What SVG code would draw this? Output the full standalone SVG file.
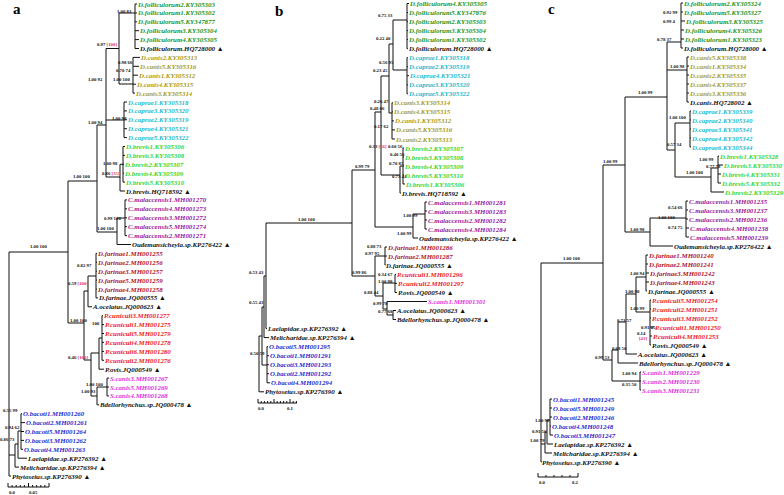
<svg xmlns="http://www.w3.org/2000/svg" width="784" height="495" viewBox="0 0 784 495">
<style>
.t{font-family:"Liberation Serif","DejaVu Serif",serif;font-style:italic;font-weight:bold;font-size:6.9px}
.s{font-family:"Liberation Serif","DejaVu Serif",serif;font-weight:bold;font-size:4.8px;fill:#111}
.L{font-family:"Liberation Serif","DejaVu Serif",serif;font-weight:bold;font-size:15px;fill:#000}
.r{fill:#e0306a}
.fol{fill:#22962a}.can{fill:#a89b1c}.cap{fill:#1fb8cc}.bre{fill:#33d633}.mal{fill:#98209a}
.far{fill:#b0142c}.cun{fill:#ee1c2a}.sca{fill:#e52ee0}.bac{fill:#2b2bcc}.blk{fill:#111}
.ln{stroke:#111;stroke-width:1;fill:none}
</style>
<rect width="784" height="495" fill="#fff"/>
<g id="panel-letters">
<text class="L" x="13" y="14">a</text>
<text class="L" x="275" y="16">b</text>
<text class="L" x="548" y="14">c</text>
</g>

<g id="connectors">
<path class="ln" d="M135,4V48.5 M135,4H137 M135,12.9H137 M135,21.8H137 M135,30.7H139 M135,39.6H139 M135,48.5H139 M119,13H135
M133,57.4V93.1 M133,57.4H140 M133,66.3H139 M133,75.2H138 M133,84.2H136 M133,93.1H135 M119,84H133
M119,13V84 M106,48.5H119
M124,102V137.6 M124,102H127 M124,110.9H127 M124,119.8H127 M124,128.7H127 M124,137.6H127 M106,120H124
M123,146.5V182.1 M123,146.5H125 M123,155.4H125 M123,164.3H124 M123,173.2H124 M123,182.1H125 M120,164.3V191 M120,164.3H123 M120,191H125 M106,177H120
M106,48.5V177 M97,125H106
M125,199.9V235.6 M125,199.9H127 M125,208.8H127 M125,217.8H127 M125,226.7H127 M125,235.6H127 M117,218V244.5 M117,218H125 M117,244.5H131 M97,232H117
M97,125V232 M68,181H97
M96,253.4V297.9 M96,253.4H97 M96,262.3H97 M96,271.2H97 M96,280.1H97 M96,289H97 M96,297.9H98 M88,276H96
M88,276V306.8 M88,306.8H92
M102,315.7V360.3 M102,315.7H103 M102,324.6H104 M102,333.5H104 M102,342.4H104 M102,351.4H104 M102,360.3H104 M99,338H102
M99,338V369.2 M99,369.2H104
M107,378.1V395.9 M107,378.1H109 M107,387H109 M107,395.9H109 M97,387H107
M97,387V404.8 M97,404.8H99
M91,353V396 M91,353H99 M91,396H97
M84,291V360 M84,291H88 M84,360H91 M68,323H84
M68,181V323 M9,252H68
M21,413.7V449.3 M21,413.7H22 M21,422.6H25 M21,431.5H24 M21,440.4H24 M21,449.3H23
M18,431V458.2 M18,431H21 M18,458.2H27
M15,444V467.1 M15,444H18 M15,467.1H19
M9,252V476 M9,455H15 M9,476H11"/>
<path class="ln" d="M8,487H49 M8,483V487 M12.1,485V487 M16.2,485V487 M20.3,485V487 M24.4,485V487 M28.5,483V487 M32.6,485V487 M36.7,485V487 M40.8,485V487 M44.9,485V487 M49,483V487"/>

<path class="ln" d="M407,3.5V48.7 M407,3.5H409 M407,12.5H408 M407,21.6H408 M407,30.6H408 M407,39.6H408 M407,48.7H408 M393,20H407
M407,57.7V93.8 M407,57.7H408 M407,66.7H408 M407,75.7H409 M407,84.8H408 M407,93.8H408 M393,70H407
M393,20V70 M389,44H393
M392,102.8V139 M392,102.8H393 M392,111.9H393 M392,120.9H394 M392,129.9H395 M392,139H395 M389,113H392
M389,44V113 M381,76H389
M403,148V184 M403,148H404 M403,157H404 M403,166H404 M403,175H404 M403,184H405 M400,166V193 M400,166H403 M400,193H401 M381,175H400
M381,76V175 M375,112H381
M425,202V229 M425,202H427 M425,211H427 M425,220H427 M425,229H427 M413,214V238 M413,214H425 M413,238H418 M375,227H413
M375,112V227 M352,170H375
M385,247V265 M385,247H387 M385,256H387 M385,265H385.5 M375,256H385
M395,274.4V292.5 M395,274.4H396 M395,283.4H397 M395,292.5H397 M383,283H395
M393,310.5V319.5 M393,310.5H396 M393,319.5H396 M387,301.5V315 M387,301.5H427 M387,315H393
M383,283V309 M383,309H387
M375,256V296 M375,296H383
M352,170V276 M352,276H375
M266,223V328.6 M266,223H352 M266,328.6H267
M264,276V337.6 M264,276H266 M264,337.6H269
M267,346.6V382.8 M267,346.6H268 M267,355.7H269 M267,364.7H269 M267,373.7H269 M267,382.8H270
M262,307V365 M262,307H264 M262,365H267
M259,336V391.8 M259,336H262 M259,391.8H264"/>
<path class="ln" d="M258,403H297 M258,399V403 M261.2,401V403 M264.4,401V403 M267.6,401V403 M270.8,401V403 M274,399V403 M277.2,401V403 M280.4,401V403 M283.6,401V403 M286.8,401V403 M290,399V403 M293.2,401V403 M296.4,401V403"/>

<path class="ln" d="M681,3V48 M681,3H683 M681,12H683 M681,21H685 M681,30H684 M681,39H684 M681,48H683
M687,57V102 M687,57H689 M687,66H689 M687,75H689 M687,84H689 M687,93H689 M687,102H689
M690,111V147 M690,111H691 M690,120H691 M690,129H691 M690,138H691 M690,147H691
M718,156V183 M718,156H719 M718,165H723 M718,174H721 M718,183H721 M711,168V192 M711,168H718 M711,192H724
M675,123V177 M675,123H690 M675,177H711
M667,42V150 M667,42H681 M667,70H687 M667,150H675
M686,201V237 M686,201H688 M686,210H688 M686,219H688 M686,228H689 M686,237H689
M650,218V246 M650,218H686 M650,246H673
M625,97V232 M625,97H667 M625,232H650
M646,255V291 M646,255H648 M646,264H648 M646,273H649 M646,282H649 M646,291H647
M650,300V345 M650,300H651 M650,309H651 M650,318H651 M650,327H654 M650,336H652 M650,345H651
M636,277V312 M636,277H646 M636,312H650
M626,294V354 M626,294H636 M626,354H637
M618,322V363 M618,322H626 M618,363H638
M640,372V390 M640,372H641 M640,381H641 M640,390H641
M612,350V381 M612,350H618 M612,381H640
M603,165V360 M603,165H625 M603,360H612
M550,399V435 M550,399H552 M550,408H552 M550,417H552 M550,426H551 M550,435H553
M547,420V444 M547,420H550 M547,444H553
M545,432V453 M545,432H547 M545,453H552
M541,263V462 M541,263H603 M541,444H545 M541,462H541.8"/>
<path class="ln" d="M538,477H578 M538,473V477 M546,475V477 M554,475V477 M562,475V477 M570,475V477 M578,473V477"/>
</g>

<g id="scale-labels">
<text class="s" x="9" y="494">0.0</text><text class="s" x="29" y="494">0.05</text>
<text class="s" x="258" y="410">0.0</text><text class="s" x="287" y="410">0.1</text>
<text class="s" x="539" y="484">0.0</text><text class="s" x="572" y="484">0.2</text>
</g>

<g id="support-a">
<text class="s" x="97" y="45.7">0.97 <tspan class="r">[100]</tspan></text>
<text class="s" x="117" y="12.7">1.00 83</text>
<text class="s" x="118" y="63.7">0.98 66</text>
<text class="s" x="116" y="71.7">0.70 74</text>
<text class="s" x="113" y="80.7">1.00 100</text>
<text class="s" x="88" y="80.7">1.00 92</text>
<text class="s" x="112" y="119.7">1.00 99</text>
<text class="s" x="88" y="123.7">1.00 94</text>
<text class="s" x="103" y="164.7">1.00 98</text>
<text class="s" x="102" y="174.7">0.86 <tspan class="r">[35]</tspan></text>
<text class="s" x="73" y="177.7">1.00 100</text>
<text class="s" x="104" y="219.7">0.99 100</text>
<text class="s" x="97" y="229.7">1.00 100</text>
<text class="s" x="30" y="247.7">1.00 100</text>
<text class="s" x="77" y="266.7">0.82 97</text>
<text class="s" x="68" y="284.7">0.59 <tspan class="r">[100]</tspan></text>
<text class="s" x="70" y="321.7">1.00 100</text>
<text class="s" x="92" y="324.7">100</text>
<text class="s" x="68" y="358.7">0.46 <tspan class="r">[100]</tspan></text>
<text class="s" x="86" y="385.7">1.00 100</text>
<text class="s" x="81" y="392.7">1.00 93</text>
<text class="s" x="3" y="411.7">0.55 99</text>
<text class="s" x="5" y="428.7">0.94 62</text>
<text class="s" x="0" y="440.7">0.86 73</text>
</g>

<g id="support-b">
<text class="s" x="378" y="16.7">0.75 33</text>
<text class="s" x="376" y="39.7">0.22 40</text>
<text class="s" x="379" y="63.7">0.56 95</text>
<text class="s" x="373" y="71.7">0.23 45</text>
<text class="s" x="374" y="102.7">0.26 47</text>
<text class="s" x="370" y="109.7">0.48 86</text>
<text class="s" x="374" y="127.7">0.17 62</text>
<text class="s" x="369" y="147.7">0.33 <tspan class="r">[56]</tspan></text>
<text class="s" x="388" y="147.7">0.60 56</text>
<text class="s" x="390" y="155.7">0.40 56</text>
<text class="s" x="389" y="164.7">0.70 85</text>
<text class="s" x="392" y="177.7">0.73 44</text>
<text class="s" x="355" y="167.7">0.99 79</text>
<text class="s" x="298" y="220.7">1.00 100</text>
<text class="s" x="403" y="216.7">1.00 99</text>
<text class="s" x="397" y="234.7">1.00 99</text>
<text class="s" x="367" y="247.7">0.88 73</text>
<text class="s" x="365" y="254.7">0.97 95</text>
<text class="s" x="352" y="273.7">0.99 86</text>
<text class="s" x="378" y="275.7">0.34 67</text>
<text class="s" x="378" y="282.7">1.00 98</text>
<text class="s" x="364" y="293.7">0.88 44</text>
<text class="s" x="373" y="304.7">0.99 78</text>
<text class="s" x="378" y="312.7">0.77 68</text>
<text class="s" x="249" y="273.7">0.53 43</text>
<text class="s" x="249" y="303.7">0.55 43</text>
<text class="s" x="250" y="354.7">0.50 59</text>
</g>

<g id="support-c">
<text class="s" x="663" y="13.7">0.92 99</text>
<text class="s" x="663" y="22.7">0.99 4</text>
<text class="s" x="657" y="40.7">0.78 37</text>
<text class="s" x="670" y="67.7">1.00 98</text>
<text class="s" x="638" y="93.7">1.00 99</text>
<text class="s" x="669" y="118.7">1.00 100</text>
<text class="s" x="667" y="145.7">0.57 34</text>
<text class="s" x="603" y="162.7">1.00 99</text>
<text class="s" x="699" y="160.7">1.00 99</text>
<text class="s" x="706" y="167.7">0.77 78</text>
<text class="s" x="686" y="173.7">1.00 100</text>
<text class="s" x="668" y="208.7">0.54 66</text>
<text class="s" x="658" y="218.7">1.00 100</text>
<text class="s" x="668" y="228.7">0.74 75</text>
<text class="s" x="630" y="230.7">1.00 98</text>
<text class="s" x="563" y="259.7">1.00 100</text>
<text class="s" x="630" y="274.7">1.00 94</text>
<text class="s" x="625" y="292.7">1.00 98</text>
<text class="s" x="630" y="309.7">1.00 99</text>
<text class="s" x="617" y="321.7">0.73 57</text>
<text class="s" x="641" y="328.7">0.91 45</text>
<text class="s" x="637" y="334.7">0.14</text>
<text class="s r" x="639" y="339.7">[43]</text>
<text class="s" x="612" y="349.7">0.68 50</text>
<text class="s" x="595" y="358.7">0.99 53</text>
<text class="s" x="622" y="374.7">1.00 94</text>
<text class="s" x="622" y="385.7">0.35 50</text>
<text class="s" x="535" y="421.7">1.00 90</text>
<text class="s" x="532" y="432.7">0.91 56</text>
<text class="s" x="530" y="441.7">1.00 79</text>
</g>

<g id="tips-a">
<g id="a01"><text class="t fol" x="138" y="6.5">D.folliculorum2.KY305303</text></g>
<g id="a02"><text class="t fol" x="138" y="15.4">D.folliculorum1.KY305302</text></g>
<g id="a03"><text class="t fol" x="138" y="24.3">D.folliculorum5.KY347877</text></g>
<g id="a04"><text class="t fol" x="140" y="33.2">D.folliculorum3.KY305304</text></g>
<g id="a05"><text class="t fol" x="140" y="42.1">D.folliculorum4.KY305305</text></g>
<g id="a06"><text class="t blk" x="140" y="51">D.folliculorum.HQ728000 ▲</text></g>
<g id="a07"><text class="t can" x="141" y="59.9">D.canis2.KY305313</text></g>
<g id="a08"><text class="t can" x="140" y="68.8">D.canis5.KY305316</text></g>
<g id="a09"><text class="t can" x="139" y="77.7">D.canis1.KY305312</text></g>
<g id="a10"><text class="t can" x="137" y="86.7">D.canis4.KY305315</text></g>
<g id="a11"><text class="t can" x="136" y="95.6">D.canis3.KY305314</text></g>
<g id="a12"><text class="t cap" x="128" y="104.5">D.caprae1.KY305318</text></g>
<g id="a13"><text class="t cap" x="128" y="113.4">D.caprae3.KY305320</text></g>
<g id="a14"><text class="t cap" x="128" y="122.3">D.caprae2.KY305319</text></g>
<g id="a15"><text class="t cap" x="128" y="131.2">D.caprae4.KY305321</text></g>
<g id="a16"><text class="t cap" x="128" y="140.1">D.caprae5.KY305322</text></g>
<g id="a17"><text class="t bre" x="126" y="149">D.brevis1.KY305306</text></g>
<g id="a18"><text class="t bre" x="126" y="157.9">D.brevis3.KY305308</text></g>
<g id="a19"><text class="t bre" x="125" y="166.8">D.brevis2.KY305307</text></g>
<g id="a20"><text class="t bre" x="125" y="175.7">D.brevis4.KY305309</text></g>
<g id="a21"><text class="t bre" x="126" y="184.6">D.brevis5.KY305310</text></g>
<g id="a22"><text class="t blk" x="126" y="193.5">D.brevis.HQ718592 ▲</text></g>
<g id="a23"><text class="t mal" x="128" y="202.4">C.malaccensis1.MH001270</text></g>
<g id="a24"><text class="t mal" x="128" y="211.3">C.malaccensis4.MH001273</text></g>
<g id="a25"><text class="t mal" x="128" y="220.3">C.malaccensis3.MH001272</text></g>
<g id="a26"><text class="t mal" x="128" y="229.2">C.malaccensis5.MH001274</text></g>
<g id="a27"><text class="t mal" x="128" y="238.1">C.malaccensis2.MH001271</text></g>
<g id="a28"><text class="t blk" x="132" y="247">Oudemansicheyla.sp.KP276422 ▲</text></g>
<g id="a29"><text class="t far" x="98" y="255.9">D.farinae1.MH001255</text></g>
<g id="a30"><text class="t far" x="98" y="264.8">D.farinae2.MH001256</text></g>
<g id="a31"><text class="t far" x="98" y="273.7">D.farinae3.MH001257</text></g>
<g id="a32"><text class="t far" x="98" y="282.6">D.farinae5.MH001259</text></g>
<g id="a33"><text class="t far" x="98" y="291.5">D.farinae4.MH001258</text></g>
<g id="a34"><text class="t blk" x="99" y="300.4">D.farinae.JQ000555 ▲</text></g>
<g id="a35"><text class="t blk" x="93" y="309.3">A.ocelatus.JQ000623 ▲</text></g>
<g id="a36"><text class="t cun" x="104" y="318.2">P.cuniculi3.MH001277</text></g>
<g id="a37"><text class="t cun" x="105" y="327.1">P.cuniculi1.MH001275</text></g>
<g id="a38"><text class="t cun" x="105" y="336">P.cuniculi5.MH001279</text></g>
<g id="a39"><text class="t cun" x="105" y="344.9">P.cuniculi4.MH001278</text></g>
<g id="a40"><text class="t cun" x="105" y="353.9">P.cuniculi6.MH001280</text></g>
<g id="a41"><text class="t cun" x="105" y="362.8">P.cuniculi2.MH001276</text></g>
<g id="a42"><text class="t blk" x="105" y="371.7">P.ovis.JQ000549 ▲</text></g>
<g id="a43"><text class="t sca" x="110" y="380.6">S.canis3.MH001267</text></g>
<g id="a44"><text class="t sca" x="110" y="389.5">S.canis5.MH001269</text></g>
<g id="a45"><text class="t sca" x="110" y="398.4">S.canis4.MH001268</text></g>
<g id="a46"><text class="t blk" x="100" y="407.3">Bdellorhynchus.sp.JQ000478 ▲</text></g>
<g id="a47"><text class="t bac" x="23" y="416.2">O.bacoti1.MH001260</text></g>
<g id="a48"><text class="t bac" x="26" y="425.1">O.bacoti2.MH001261</text></g>
<g id="a49"><text class="t bac" x="25" y="434">O.bacoti5.MH001264</text></g>
<g id="a50"><text class="t bac" x="25" y="442.9">O.bacoti3.MH001262</text></g>
<g id="a51"><text class="t bac" x="24" y="451.8">O.bacoti4.MH001263</text></g>
<g id="a52"><text class="t blk" x="28" y="460.7">Laelapidae.sp.KP276392 ▲</text></g>
<g id="a53"><text class="t blk" x="20" y="469.6">Melicharidae.sp.KP276394 ▲</text></g>
<g id="a54"><text class="t blk" x="12" y="478.5">Phytoseius.sp.KP276390 ▲</text></g>
</g>

<g id="tips-b">
<g id="b01"><text class="t fol" x="410" y="6">D.folliculorum4.KY305305</text></g>
<g id="b02"><text class="t fol" x="409" y="15">D.folliculorum5.KY347876</text></g>
<g id="b03"><text class="t fol" x="409" y="24.1">D.folliculorum2.KY305303</text></g>
<g id="b04"><text class="t fol" x="409" y="33.1">D.folliculorum3.KY305304</text></g>
<g id="b05"><text class="t fol" x="409" y="42.1">D.folliculorum1.KY305302</text></g>
<g id="b06"><text class="t blk" x="409" y="51.2">D.folliculorum.HQ728000 ▲</text></g>
<g id="b07"><text class="t cap" x="409" y="60.2">D.caprae1.KY305318</text></g>
<g id="b08"><text class="t cap" x="409" y="69.2">D.caprae2.KY305319</text></g>
<g id="b09"><text class="t cap" x="410" y="78.2">D.caprae4.KY305321</text></g>
<g id="b10"><text class="t cap" x="409" y="87.3">D.caprae3.KY305320</text></g>
<g id="b11"><text class="t cap" x="409" y="96.3">D.caprae5.KY305322</text></g>
<g id="b12"><text class="t can" x="394" y="105.3">D.canis3.KY305314</text></g>
<g id="b13"><text class="t can" x="394" y="114.4">D.canis4.KY305315</text></g>
<g id="b14"><text class="t can" x="395" y="123.4">D.canis1.KY305312</text></g>
<g id="b15"><text class="t can" x="396" y="132.4">D.canis5.KY305316</text></g>
<g id="b16"><text class="t can" x="396" y="141.5">D.canis2.KY305313</text></g>
<g id="b17"><text class="t bre" x="405" y="150.5">D.brevis2.KY305307</text></g>
<g id="b18"><text class="t bre" x="405" y="159.5">D.brevis3.KY305308</text></g>
<g id="b19"><text class="t bre" x="405" y="168.5">D.brevis4.KY305309</text></g>
<g id="b20"><text class="t bre" x="405" y="177.5">D.brevis5.KY305310</text></g>
<g id="b21"><text class="t bre" x="406" y="186.5">D.brevis1.KY305306</text></g>
<g id="b22"><text class="t blk" x="402" y="195.5">D.brevis.HQ718592 ▲</text></g>
<g id="b23"><text class="t mal" x="428" y="204.5">C.malaccensis1.MH001281</text></g>
<g id="b24"><text class="t mal" x="428" y="213.5">C.malaccensis3.MH001283</text></g>
<g id="b25"><text class="t mal" x="428" y="222.5">C.malaccensis2.MH001282</text></g>
<g id="b26"><text class="t mal" x="428" y="231.5">C.malaccensis4.MH001284</text></g>
<g id="b27"><text class="t blk" x="419" y="240.5">Oudemansicheyla.sp.KP276422 ▲</text></g>
<g id="b28"><text class="t far" x="388" y="249.5">D.farinae1.MH001286</text></g>
<g id="b29"><text class="t far" x="388" y="258.5">D.farinae2.MH001287</text></g>
<g id="b30"><text class="t blk" x="386" y="267.5">D.farinae.JQ000555 ▲</text></g>
<g id="b31"><text class="t cun" x="397" y="276.9">P.cuniculi1.MH001296</text></g>
<g id="b32"><text class="t cun" x="398" y="285.9">P.cuniculi2.MH001297</text></g>
<g id="b33"><text class="t blk" x="398" y="295">P.ovis.JQ000549 ▲</text></g>
<g id="b34"><text class="t sca" x="428" y="304">S.canis1.MH001301</text></g>
<g id="b35"><text class="t blk" x="397" y="313">A.ocelatus.JQ000623 ▲</text></g>
<g id="b36"><text class="t blk" x="397" y="322">Bdellorhynchus.sp.JQ000478 ▲</text></g>
<g id="b37"><text class="t blk" x="268" y="331.1">Laelapidae.sp.KP276392 ▲</text></g>
<g id="b38"><text class="t blk" x="270" y="340.1">Melicharidae.sp.KP276394 ▲</text></g>
<g id="b39"><text class="t bac" x="269" y="349.1">O.bacoti5.MH001295</text></g>
<g id="b40"><text class="t bac" x="270" y="358.2">O.bacoti1.MH001291</text></g>
<g id="b41"><text class="t bac" x="270" y="367.2">O.bacoti3.MH001293</text></g>
<g id="b42"><text class="t bac" x="270" y="376.2">O.bacoti2.MH001292</text></g>
<g id="b43"><text class="t bac" x="271" y="385.3">O.bacoti4.MH001294</text></g>
<g id="b44"><text class="t blk" x="265" y="394.3">Phytoseius.sp.KP276390 ▲</text></g>
</g>

<g id="tips-c">
<g id="c01"><text class="t fol" x="684" y="5.5">D.folliculorum2.KY305324</text></g>
<g id="c02"><text class="t fol" x="684" y="14.5">D.folliculorum5.KY305327</text></g>
<g id="c03"><text class="t fol" x="686" y="23.5">D.folliculorum3.KY305325</text></g>
<g id="c04"><text class="t fol" x="685" y="32.5">D.folliculorum4.KY305326</text></g>
<g id="c05"><text class="t fol" x="685" y="41.5">D.folliculorum1.KY305323</text></g>
<g id="c06"><text class="t blk" x="684" y="50.5">D.folliculorum.HQ728000 ▲</text></g>
<g id="c07"><text class="t can" x="690" y="59.5">D.canis5.KY305338</text></g>
<g id="c08"><text class="t can" x="690" y="68.5">D.canis1.KY305334</text></g>
<g id="c09"><text class="t can" x="690" y="77.5">D.canis2.KY305335</text></g>
<g id="c10"><text class="t can" x="690" y="86.5">D.canis4.KY305337</text></g>
<g id="c11"><text class="t can" x="690" y="95.5">D.canis3.KY305336</text></g>
<g id="c12"><text class="t blk" x="690" y="104.5">D.canis.HQ728002 ▲</text></g>
<g id="c13"><text class="t cap" x="692" y="113.5">D.caprae1.KY305339</text></g>
<g id="c14"><text class="t cap" x="692" y="122.5">D.caprae2.KY305340</text></g>
<g id="c15"><text class="t cap" x="692" y="131.5">D.caprae3.KY305341</text></g>
<g id="c16"><text class="t cap" x="692" y="140.5">D.caprae4.KY305342</text></g>
<g id="c17"><text class="t cap" x="692" y="149.5">D.caprae6.KY305344</text></g>
<g id="c18"><text class="t bre" x="720" y="158.5">D.brevis1.KY305328</text></g>
<g id="c19"><text class="t bre" x="724" y="167.5">D.brevis3.KY305330</text></g>
<g id="c20"><text class="t bre" x="722" y="176.5">D.brevis4.KY305331</text></g>
<g id="c21"><text class="t bre" x="722" y="185.5">D.brevis5.KY305332</text></g>
<g id="c22"><text class="t bre" x="725" y="194.5">D.brevis2.KY305329</text></g>
<g id="c23"><text class="t mal" x="689" y="203.5">C.malaccensis1.MH001235</text></g>
<g id="c24"><text class="t mal" x="689" y="212.5">C.malaccensis3.MH001237</text></g>
<g id="c25"><text class="t mal" x="689" y="221.5">C.malaccensis2.MH001236</text></g>
<g id="c26"><text class="t mal" x="690" y="230.5">C.malaccensis4.MH001238</text></g>
<g id="c27"><text class="t mal" x="690" y="239.5">C.malaccensis5.MH001239</text></g>
<g id="c28"><text class="t blk" x="674" y="248.5">Oudemansicheyla.sp.KP276422 ▲</text></g>
<g id="c29"><text class="t far" x="649" y="257.5">D.farinae1.MH001240</text></g>
<g id="c30"><text class="t far" x="649" y="266.5">D.farinae2.MH001241</text></g>
<g id="c31"><text class="t far" x="650" y="275.5">D.farinae3.MH001242</text></g>
<g id="c32"><text class="t far" x="650" y="284.5">D.farinae4.MH001243</text></g>
<g id="c33"><text class="t blk" x="648" y="293.5">D.farinae.JQ000555 ▲</text></g>
<g id="c34"><text class="t cun" x="652" y="302.5">P.cuniculi5.MH001254</text></g>
<g id="c35"><text class="t cun" x="652" y="311.5">P.cuniculi2.MH001251</text></g>
<g id="c36"><text class="t cun" x="652" y="320.5">P.cuniculi3.MH001252</text></g>
<g id="c37"><text class="t cun" x="655" y="329.5">P.cuniculi1.MH001250</text></g>
<g id="c38"><text class="t cun" x="653" y="338.5">P.cuniculi4.MH001253</text></g>
<g id="c39"><text class="t blk" x="652" y="347.5">P.ovis.JQ000549 ▲</text></g>
<g id="c40"><text class="t blk" x="638" y="356.5">A.ocelatus.JQ000623 ▲</text></g>
<g id="c41"><text class="t blk" x="639" y="365.5">Bdellorhynchus.sp.JQ000478 ▲</text></g>
<g id="c42"><text class="t sca" x="642" y="374.5">S.canis1.MH001229</text></g>
<g id="c43"><text class="t sca" x="642" y="383.5">S.canis2.MH001230</text></g>
<g id="c44"><text class="t sca" x="642" y="392.5">S.canis3.MH001231</text></g>
<g id="c45"><text class="t bac" x="553" y="401.5">O.bacoti1.MH001245</text></g>
<g id="c46"><text class="t bac" x="553" y="410.5">O.bacoti5.MH001249</text></g>
<g id="c47"><text class="t bac" x="553" y="419.5">O.bacoti2.MH001246</text></g>
<g id="c48"><text class="t bac" x="552" y="428.5">O.bacoti4.MH001248</text></g>
<g id="c49"><text class="t bac" x="554" y="437.5">O.bacoti3.MH001247</text></g>
<g id="c50"><text class="t blk" x="554" y="446.5">Laelapidae.sp.KP276392 ▲</text></g>
<g id="c51"><text class="t blk" x="553" y="455.5">Melicharidae.sp.KP276394 ▲</text></g>
<g id="c52"><text class="t blk" x="542" y="464.5">Phytoseius.sp.KP276390 ▲</text></g>
</g>
</svg>
